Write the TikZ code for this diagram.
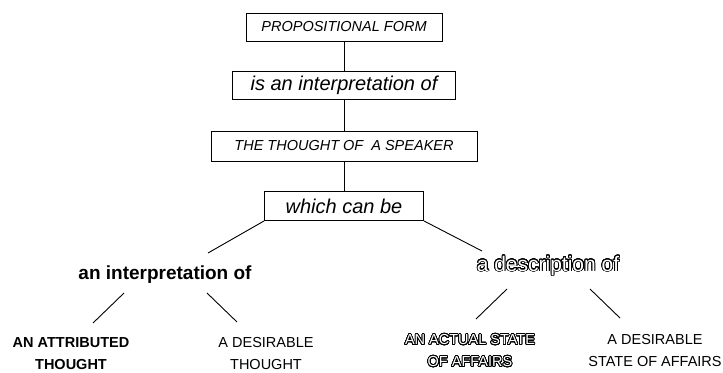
\documentclass[tikz,border=0pt]{standalone}
\usepackage{fontspec}
\setsansfont{Liberation Sans}
\usepackage[copies]{contour}
\usetikzlibrary{positioning,calc}

\contourlength{0.75bp}
\contournumber{32}
\newcommand{\hollow}[1]{\contour{black}{\textcolor{white}{#1}}}

\begin{document}
\begin{tikzpicture}[x=1bp, y=1bp, line width=0.9bp,
    every node/.style={align=center, font=\sffamily},
    box/.style={rectangle, draw, inner sep=0pt, minimum height=28bp},
    smallit/.style={font=\sffamily\itshape\fontsize{14.5bp}{17bp}\selectfont},
    bigit/.style={font=\sffamily\itshape\fontsize{20bp}{24bp}\selectfont},
    leaf/.style={font=\sffamily\fontsize{14.5bp}{22bp}\selectfont}]
    \useasboundingbox (0,0) rectangle (723,372);

    % the chain of boxes
    \node [box, smallit, minimum width=196bp] (form) at (344,345) {PROPOSITIONAL FORM};
    \node [box, bigit, minimum width=223bp, below of=form, node distance=58bp] (interpof) {is an interpretation of};
    \node [box, smallit, minimum width=266bp, minimum height=30bp, below of=interpof, node distance=61bp] (thought) {THE THOUGHT OF\ \ A SPEAKER};
    \node [box, bigit, minimum width=159bp, minimum height=29bp, below of=thought, node distance=60bp] (which) {which can be};

    % the two branches
    \node [font=\sffamily\bfseries\fontsize{19bp}{23bp}\selectfont] (interp) at (165,97) {an interpretation of};
    \node [font=\sffamily\fontsize{21bp}{25bp}\selectfont] (descr) at (548,106) {\hollow{a description of}};

    \node [leaf, font=\sffamily\bfseries\fontsize{14.5bp}{22bp}\selectfont] (attrib) at (71,18) {AN ATTRIBUTED\\THOUGHT};
    \node [leaf] (desthought) at (266,18) {A DESIRABLE\\THOUGHT};
    \node [leaf] (actual) at (470,21) {\hollow{AN ACTUAL STATE}\\\hollow{OF AFFAIRS}};
    \node [leaf] (desstate) at (655,21) {A DESIRABLE\\STATE OF AFFAIRS};

    % free line ends
    \coordinate (wl) at (208,119);
    \coordinate (wr) at (482,121);
    \coordinate (il1) at (124,79);
    \coordinate (il2) at (93,49);
    \coordinate (ir1) at (207,79);
    \coordinate (ir2) at (237,50);
    \coordinate (dl1) at (507,83);
    \coordinate (dl2) at (476,53);
    \coordinate (dr1) at (590,83);
    \coordinate (dr2) at (620,54);

    \draw (form) -- (interpof);
    \draw (interpof) -- (thought);
    \draw (thought) -- (which);
    \draw (which.south west) -- (wl);
    \draw (which.south east) -- (wr);
    \draw (il1) -- (il2);
    \draw (ir1) -- (ir2);
    \draw (dl1) -- (dl2);
    \draw (dr1) -- (dr2);
\end{tikzpicture}
\end{document}
